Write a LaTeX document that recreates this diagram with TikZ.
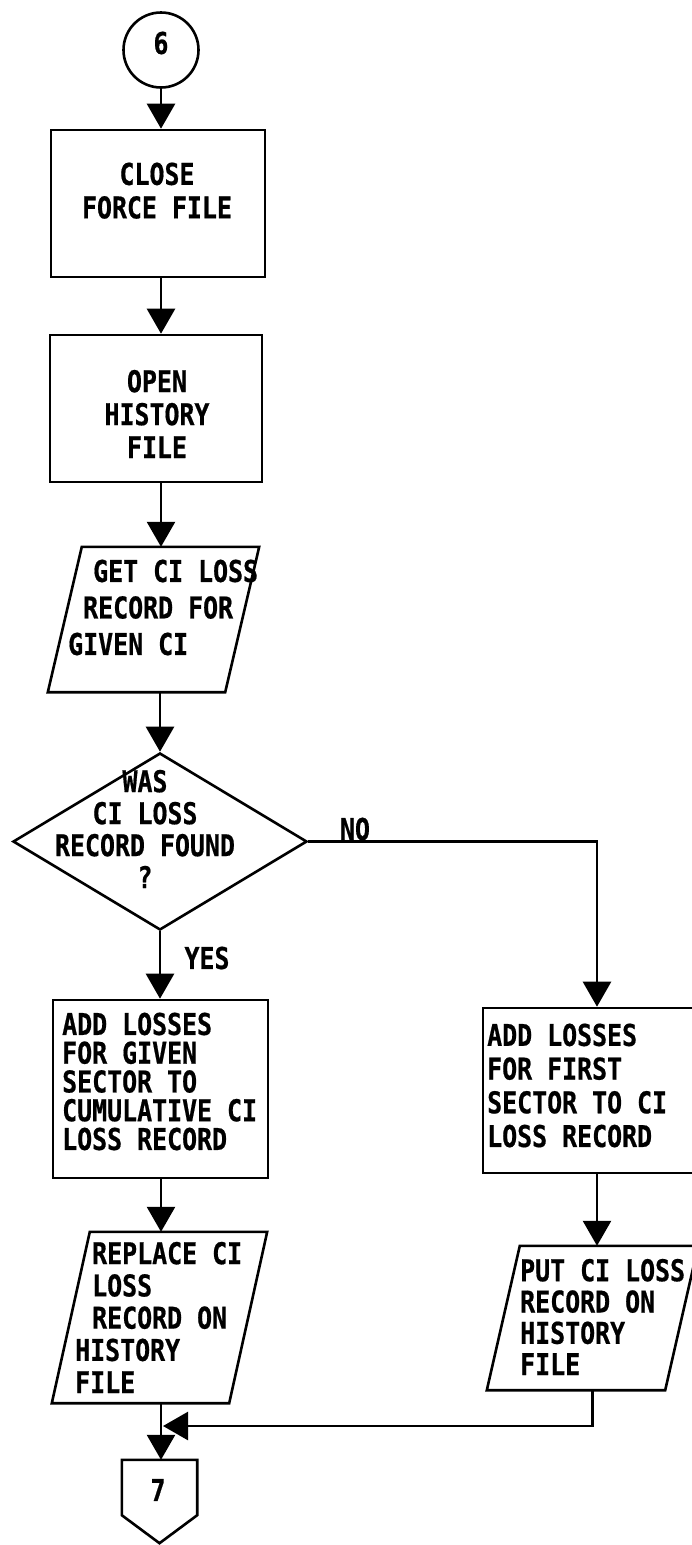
\documentclass[tikz,border=0pt]{standalone}
\usepackage{fontspec}
\usetikzlibrary{arrows.meta,shapes.geometric}
% condensed bold stencil-like lettering
\newfontfamily\leroy[FakeStretch=0.83,FakeBold=0.6]{DejaVu Sans Mono Bold}
\newcommand{\lettering}[1]{\leroy\fontsize{30}{#1}\selectfont}
% parallelogram (input/output) drawn over a named rectangle node
\newcommand{\slantbox}[2]{%
  \draw[outline] ([xshift=#2]#1.north west) -- (#1.north east)
    -- ([xshift=-#2]#1.south east) -- (#1.south west) -- cycle;}

\begin{document}
\begin{tikzpicture}[x=1pt,y=-1pt,
  outline/.style={draw=black, line width=2.6pt, line join=miter},
  procbox/.style={outline, rectangle, inner sep=0pt},
  iobox/.style={rectangle, inner sep=0pt},
  decbox/.style={outline, diamond, inner sep=0pt},
  conncircle/.style={outline, circle, inner sep=0pt},
  lbl/.style={inner sep=0pt, font=\lettering{#1}},
  arr/.style={draw=black, line width=2.6pt, -{Triangle[length=25pt,width=28pt]}}]

\useasboundingbox (0,0) rectangle (692,1545);
\clip (0,0) rectangle (692,1545);

% on-page connector 6
\node[conncircle, minimum size=75pt] (c6) at (161,50) {};
\node[lbl=30] (t6) at (161,43) {6};

% process boxes of the main column
\node[procbox, minimum width=214pt, minimum height=147pt] (close) at (158,203.5) {};
\node[lbl=33.5, align=center] (tclose) at (157,190.7) {CLOSE\\FORCE FILE};

\node[procbox, minimum width=212pt, minimum height=147pt] (open) at (156,408.5) {};
\node[lbl=33, align=center] (topen) at (157,414) {OPEN\\HISTORY\\FILE};

% read record
\node[iobox, minimum width=211pt, minimum height=145pt] (io1) at (153.5,619.5) {};
\slantbox{io1}{34pt}
\node[lbl=36.5, align=left, anchor=west] (tio1) at (68,607.5)
  {\hspace*{25pt}GET CI LOSS\\\hspace*{15pt}RECORD FOR\\GIVEN CI};

% decision
\node[decbox, minimum width=294pt, minimum height=177pt] (dec) at (160,841.5) {};
\node[lbl=32, align=center] (tdec) at (145,829) {WAS\\CI LOSS\\RECORD FOUND\\?};
\node[lbl=30] (tno) at (355,829) {NO};
\node[lbl=30] (tyes) at (207,958) {YES};

% YES branch
\node[procbox, minimum width=215pt, minimum height=178pt] (lbox) at (160.5,1089) {};
\node[lbl=28.75, align=left, anchor=west] (tlbox) at (62,1081.5)
  {ADD LOSSES\\FOR GIVEN\\SECTOR TO\\CUMULATIVE CI\\LOSS RECORD};

\node[iobox, minimum width=215pt, minimum height=171pt] (io2) at (159.5,1317.5) {};
\slantbox{io2}{38pt}
\node[lbl=32.25, align=left, anchor=west] (tio2) at (75,1317.5)
  {\hspace*{17pt}REPLACE CI\\\hspace*{17pt}LOSS\\\hspace*{17pt}RECORD ON\\HISTORY\\FILE};

% NO branch
\node[procbox, minimum width=228pt, minimum height=165pt] (rbox) at (597,1090.5) {};
\node[lbl=33.7, align=left, anchor=west] (trbox) at (487,1085.5)
  {ADD LOSSES\\FOR FIRST\\SECTOR TO CI\\LOSS RECORD};

\node[iobox, minimum width=211pt, minimum height=144pt] (io4) at (592.5,1318) {};
\slantbox{io4}{33pt}
\node[lbl=31.3, align=left, anchor=west] (tio4) at (520,1317)
  {PUT CI LOSS\\RECORD ON\\HISTORY\\FILE};

% off-page connector 7
\node[iobox, minimum width=75pt, minimum height=83pt] (c7) at (159.5,1501.5) {};
\draw[outline] (c7.north west) -- (c7.north east) -- ([yshift=28pt]c7.south east)
  -- (c7.south) -- ([yshift=28pt]c7.south west) -- cycle;
\node[lbl=30] (t7) at (158,1490) {7};

% flow lines
\coordinate (merge) at (163,1426);
\draw[arr] (c6.south) -- (c6.south |- close.north);
\draw[arr] (close.south -| c6) -- (open.north -| c6);
\draw[arr] (open.south -| c6) -- (io1.north -| c6);
\draw[arr] (io1.south -| dec.north) -- (dec.north);
\draw[arr] (dec.south) -- (dec.south |- lbox.north);
\draw[arr] (dec.east) -| (rbox.north);
\draw[arr] (lbox.south -| c6) -- (io2.north -| c6);
\draw[arr] (rbox.south) -- (rbox.south |- io4.north);
\draw[arr] (io2.south -| c6) -- (c7.north -| c6);
\draw[arr] (io4.south) |- (merge);
\end{tikzpicture}
\end{document}
